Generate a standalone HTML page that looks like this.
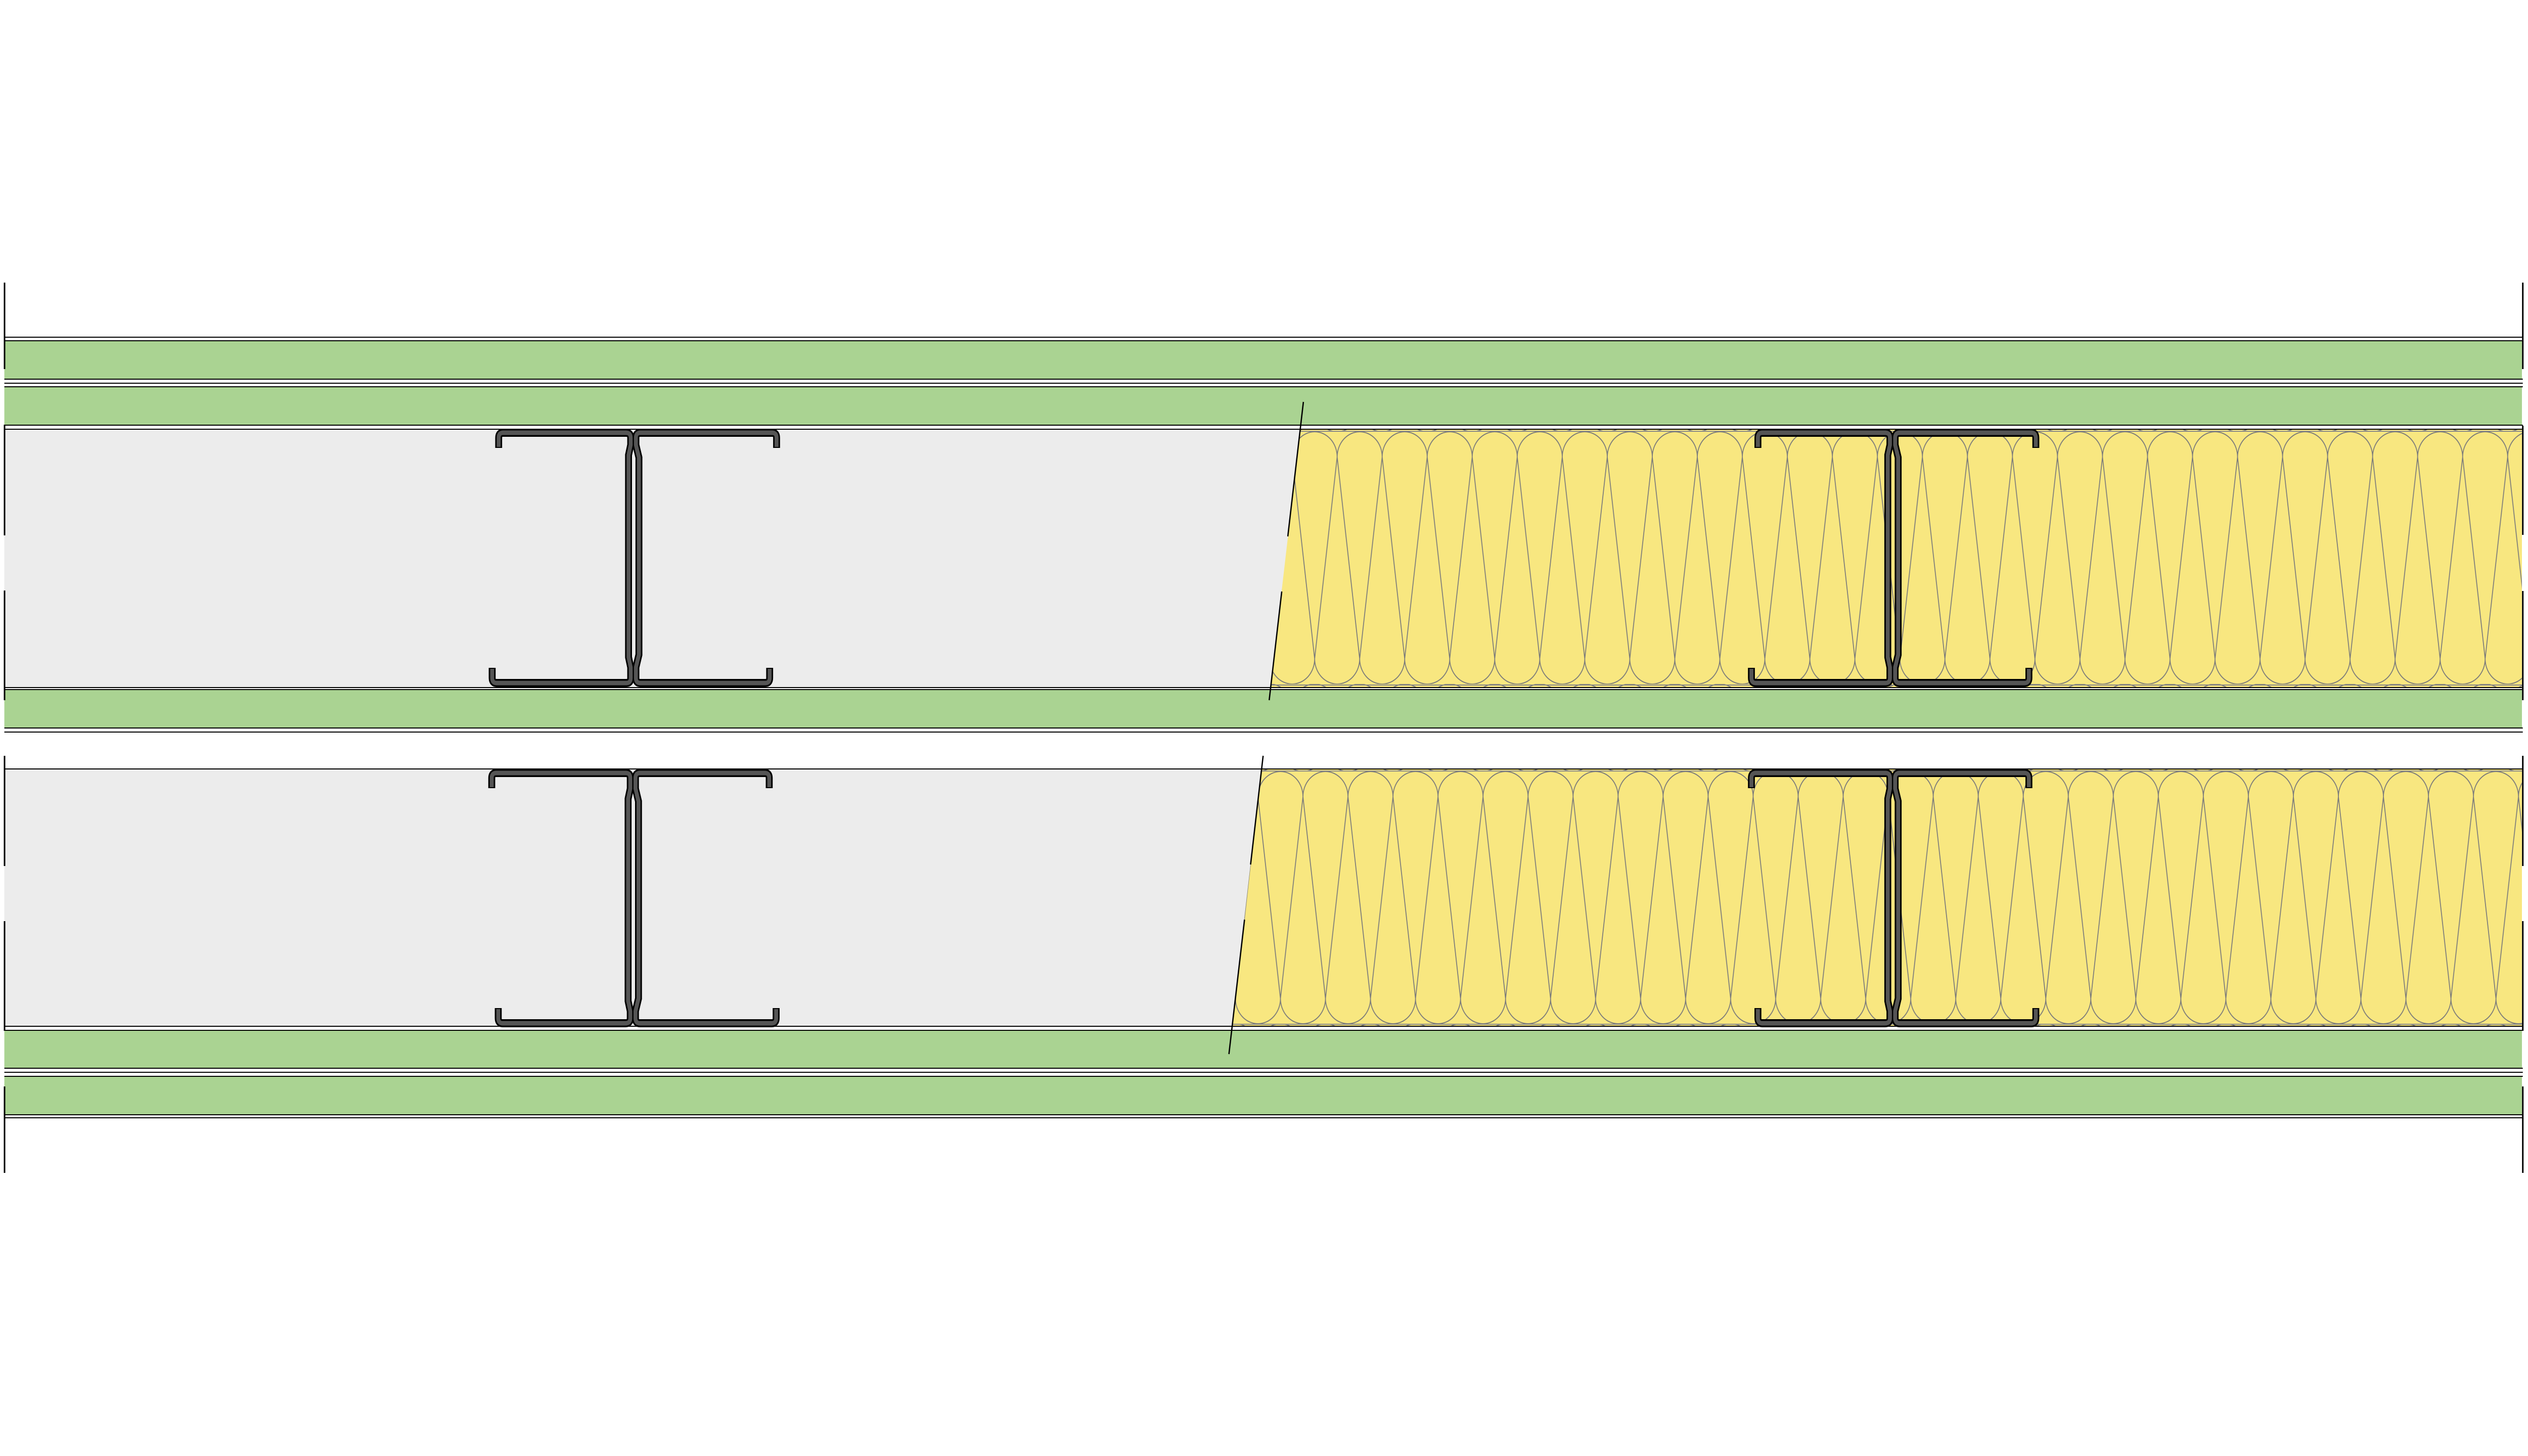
<!DOCTYPE html>
<html><head><meta charset="utf-8"><style>html,body{margin:0;padding:0;background:#fff;width:100%;height:100%;overflow:hidden}svg{display:block;position:fixed;left:0;top:0;width:100vw;height:100vh}</style></head>
<body>
<svg viewBox="0 0 5840 2880" preserveAspectRatio="none" xmlns="http://www.w3.org/2000/svg">
<defs>
<pattern id="insU" patternUnits="userSpaceOnUse" x="2985" y="854" width="104" height="499">
<path d="M0,50 A52,50 0 0 1 104,50 M0,50 L52,449 L104,50 M0,499 A52,50 0 0 0 52,449 A52,50 0 0 0 104,499" fill="none" stroke="#7a7a7a" stroke-width="2"/>
</pattern>
<pattern id="insL" patternUnits="userSpaceOnUse" x="2906" y="1526" width="104" height="499">
<path d="M0,50 A52,50 0 0 1 104,50 M0,50 L52,449 L104,50 M0,499 A52,50 0 0 0 52,449 A52,50 0 0 0 104,499" fill="none" stroke="#7a7a7a" stroke-width="2"/>
</pattern>
<g id="studs">
<path d="M4061,886 L4061,866 Q4061,856 4071,856 L4355,856 Q4366,856 4366,866 L4366,880 L4361,900 L4361,1300 L4366,1320 L4366,1341 Q4366,1351 4356,1351 L4056,1351 Q4046,1351 4046,1341 L4046,1321" fill="none" stroke="#000" stroke-width="16"/>
<path d="M4703,886 L4703,866 Q4703,856 4693,856 L4388,856 Q4378,856 4378,866 L4378,880 L4385,905 L4385,1295 L4378,1320 L4378,1341 Q4378,1351 4388,1351 L4677,1351 Q4687,1351 4687,1341 L4687,1321" fill="none" stroke="#000" stroke-width="16"/>
<path d="M4061,884 L4061,866 Q4061,856 4071,856 L4355,856 Q4366,856 4366,866 L4366,880 L4361,900 L4361,1300 L4366,1320 L4366,1341 Q4366,1351 4356,1351 L4056,1351 Q4046,1351 4046,1341 L4046,1323" fill="none" stroke="#555" stroke-width="9"/>
<path d="M4703,884 L4703,866 Q4703,856 4693,856 L4388,856 Q4378,856 4378,866 L4378,880 L4385,905 L4385,1295 L4378,1320 L4378,1341 Q4378,1351 4388,1351 L4677,1351 Q4687,1351 4687,1341 L4687,1323" fill="none" stroke="#555" stroke-width="9"/>
</g>
</defs>

<rect x="10" y="675" width="5816" height="75" fill="#aad392"/>
<rect x="10" y="766" width="5816" height="75" fill="#aad392"/>
<rect x="10" y="1365" width="5816" height="75" fill="#aad392"/>
<rect x="10" y="2039" width="5816" height="74" fill="#aad392"/>
<rect x="10" y="2130" width="5816" height="75" fill="#aad392"/>

<rect x="10" y="850" width="5816" height="510" fill="#ececec"/>
<rect x="10" y="1522" width="5816" height="508" fill="#ececec"/>

<polygon points="3004,850 5826,850 5826,1359 2935,1359" fill="#f8e780"/>
<polygon points="3004,850 5826,850 5826,1359 2935,1359" fill="url(#insU)"/>
<line x1="3004" y1="853" x2="5826" y2="853" stroke="#888" stroke-width="2"/>
<line x1="2936" y1="1355" x2="5826" y2="1355" stroke="#888" stroke-width="2"/>
<polygon points="2914,1522 5826,1522 5826,2029 2846,2029" fill="#f8e780"/>
<polygon points="2914,1522 5826,1522 5826,2029 2846,2029" fill="url(#insL)"/>
<line x1="2914" y1="1525" x2="5826" y2="1525" stroke="#888" stroke-width="2"/>
<line x1="2847" y1="2026" x2="5826" y2="2026" stroke="#888" stroke-width="2"/>

<g stroke="#000" stroke-width="2">
<line x1="10" y1="667" x2="5828" y2="667"/>
<line x1="10" y1="674" x2="5828" y2="674"/>
<line x1="10" y1="750" x2="5828" y2="750"/>
<line x1="10" y1="758" x2="5828" y2="758"/>
<line x1="10" y1="765" x2="5828" y2="765"/>
<line x1="10" y1="841" x2="5828" y2="841"/>
<line x1="10" y1="849" x2="5828" y2="849"/>
<line x1="10" y1="1360" x2="5828" y2="1360"/>
<line x1="10" y1="1364" x2="5828" y2="1364"/>
<line x1="10" y1="1440" x2="5828" y2="1440"/>
<line x1="10" y1="1448" x2="5828" y2="1448"/>
<line x1="10" y1="1521" x2="5828" y2="1521"/>
<line x1="10" y1="2030" x2="5828" y2="2030"/>
<line x1="10" y1="2038" x2="5828" y2="2038"/>
<line x1="10" y1="2113" x2="5828" y2="2113"/>
<line x1="10" y1="2121" x2="5828" y2="2121"/>
<line x1="10" y1="2129" x2="5828" y2="2129"/>
<line x1="10" y1="2205" x2="5828" y2="2205"/>
<line x1="10" y1="2211" x2="5828" y2="2211"/>
</g>

<use href="#studs"/>
<use href="#studs" transform="translate(-2909,0)"/>
<use href="#studs" transform="translate(0,2880) scale(1,-1)"/>
<use href="#studs" transform="translate(-2910,2880) scale(1,-1)"/>

<g stroke="#000" stroke-width="3">
<line x1="3011" y1="795" x2="2975" y2="1061"/>
<line x1="2961" y1="1170" x2="2932" y2="1385"/>
<line x1="2918" y1="1495" x2="2889" y2="1710"/>
<line x1="2875" y1="1819" x2="2839" y2="2085"/>
</g>

<g stroke="#000" stroke-width="3.5">
<line x1="10.5" y1="559" x2="10.5" y2="730"/>
<line x1="10.5" y1="840" x2="10.5" y2="1059"/>
<line x1="10.5" y1="1168" x2="10.5" y2="1385"/>
<line x1="10.5" y1="1495" x2="10.5" y2="1713"/>
<line x1="10.5" y1="1822" x2="10.5" y2="2039"/>
<line x1="10.5" y1="2149" x2="10.5" y2="2320"/>
<line x1="5828" y1="559" x2="5828" y2="730"/>
<line x1="5828" y1="842" x2="5828" y2="1058"/>
<line x1="5828" y1="1169" x2="5828" y2="1385"/>
<line x1="5828" y1="1495" x2="5828" y2="1713"/>
<line x1="5828" y1="1822" x2="5828" y2="2039"/>
<line x1="5828" y1="2149" x2="5828" y2="2320"/>
</g>
</svg>
</body></html>
